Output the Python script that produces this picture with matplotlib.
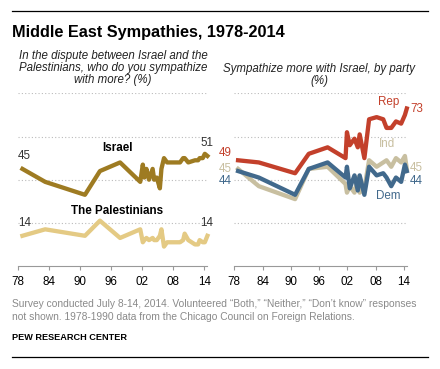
import matplotlib
matplotlib.use("Agg")
import matplotlib.pyplot as plt

plt.rcParams['font.family'] = ['Liberation Sans', 'DejaVu Sans']

# 左图：同情以色列 / 巴勒斯坦
left_years = [1978.8, 1983.2, 1990.9, 1993.8, 1997.7, 2001.6, 2002.1, 2002.4, 2002.8,
              2003.3, 2004.0, 2004.3, 2004.8, 2005.4, 2005.7, 2006.2, 2006.8, 2009.3,
              2009.9, 2010.2, 2010.9, 2012.2, 2012.8, 2013.1, 2013.7, 2014.1, 2014.6]
israel = [45, 39, 33, 44, 48, 39, 47, 41, 45, 40, 45, 40, 41, 36, 45, 50, 48, 48,
          50, 50, 48, 49, 49, 50, 50, 52, 51]
palestinians = [14, 17, 14, 21, 13, 17, 11, 12, 13, 12, 13, 12, 12, 14, 17, 9, 11, 11,
                12, 15, 12, 10, 10, 12, 11, 11, 14]

# 右图：按党派
right_years = [1978.8, 1983.2, 1990.9, 1993.8, 1997.8, 2001.6, 2001.9, 2002.5, 2003.5,
               2004.2, 2004.6, 2005.6, 2006.6, 2008.2, 2009.6, 2010.3, 2011.3, 2012.3,
               2013.4, 2014.2, 2014.6]
rep = [49, 48, 43, 52, 55, 50, 62, 56, 59, 55, 61, 50, 68, 69, 68, 64, 64, 67, 66, 70, 73]
ind = [45, 37, 31, 45, 46, 38, 34, 37, 34, 41, 34, 36, 49, 46, 48, 49, 46, 50, 48, 51, 45]
dem = [44, 41, 33, 45, 48, 41, 46, 36, 42, 35, 42, 33, 46, 42, 43, 41, 37, 41, 39, 47, 44]

tick_years = [1978, 1984, 1990, 1996, 2002, 2008, 2014]
tick_labels = ['78', '84', '90', '96', '02', '08', '14']

c_isr = '#9E7B22'
c_pal = '#E4CA84'
c_rep = '#C3402B'
c_ind = '#C8BFA0'
c_dem = '#41698C'

W, H = 440, 369
fig = plt.figure(figsize=(W / 100, H / 100), dpi=100)


def px(x, y):
    return x / W, 1 - y / H


def make_ax(x0, x1):
    ax = fig.add_axes([x0 / W, (H - 266) / H, (x1 - x0) / W, (266 - 93.4) / H])
    ax.set_xlim(1978, 2014.6)
    ax.set_ylim(0, 80)
    for s in ['top', 'left', 'right']:
        ax.spines[s].set_visible(False)
    ax.spines['bottom'].set_color('#999999')
    ax.set_yticks([])
    ax.set_xticks(tick_years)
    ax.set_xticklabels(tick_labels)
    ax.tick_params(axis='x', length=3, color='#999999', labelsize=8.4, pad=4)
    for g in [20, 40, 60, 80]:
        ax.axhline(g, color='#bbbbbb', lw=0.8, ls=(0, (1, 2)), zorder=0)
    return ax


ax1 = make_ax(18.3, 207.4)
ax1.plot(left_years, israel, color=c_isr, lw=3.1, clip_on=False)
ax1.plot(left_years, palestinians, color=c_pal, lw=3.1, clip_on=False)

ax2 = make_ax(234.3, 406.8)
ax2.plot(right_years, ind, color=c_ind, lw=3.1, clip_on=False)
ax2.plot(right_years, dem, color=c_dem, lw=3.1, clip_on=False)
ax2.plot(right_years, rep, color=c_rep, lw=3.1, clip_on=False)

# 标题和线
fig.add_artist(plt.Line2D([12 / W, 428 / W], [1 - 11 / H, 1 - 11 / H], color='black', lw=0.9))
fig.add_artist(plt.Line2D([12 / W, 428 / W], [1 - 357 / H, 1 - 357 / H], color='black', lw=0.9))
fig.text(*px(12, 32), 'Middle East Sympathies, 1978-2014', fontsize=11.7,
         fontweight='bold', va='center', ha='left')

fig.text(*px(113, 68), 'In the dispute between Israel and the\nPalestinians, who do you sympathize\nwith more? (%)',
         fontsize=8.3, style='italic', ha='center', va='center', linespacing=1.05, color='#222222')
fig.text(*px(319, 75), 'Sympathize more with Israel, by party\n(%)',
         fontsize=8.3, style='italic', ha='center', va='center', linespacing=1.05, color='#222222')

# 线标签
fs = 8.4
fig.text(*px(18, 156), '45', fontsize=fs, va='center', ha='left', color='#333333')
fig.text(*px(213, 143), '51', fontsize=fs, va='center', ha='right', color='#333333')
fig.text(*px(117, 148), 'Israel', fontsize=fs, fontweight='bold', va='center', ha='center')
fig.text(*px(117, 211), 'The Palestinians', fontsize=fs, fontweight='bold', va='center', ha='center')
fig.text(*px(18, 223), '14', fontsize=fs, va='center', ha='left', color='#333333')
fig.text(*px(213, 223), '14', fontsize=fs, va='center', ha='right', color='#333333')

fig.text(*px(232, 153), '49', fontsize=fs, va='center', ha='right', color=c_rep)
fig.text(*px(232, 169), '45', fontsize=fs, va='center', ha='right', color=c_ind)
fig.text(*px(232, 181), '44', fontsize=fs, va='center', ha='right', color=c_dem)
fig.text(*px(389, 102), 'Rep', fontsize=fs, va='center', ha='center', color=c_rep)
fig.text(*px(410, 109), '73', fontsize=fs, va='center', ha='left', color=c_rep)
fig.text(*px(387, 144), 'Ind', fontsize=fs, va='center', ha='center', color=c_ind)
fig.text(*px(410, 168), '45', fontsize=fs, va='center', ha='left', color=c_ind)
fig.text(*px(410, 181), '44', fontsize=fs, va='center', ha='left', color=c_dem)
fig.text(*px(388, 196), 'Dem', fontsize=fs, va='center', ha='center', color=c_dem)

# 注释
fig.text(*px(12, 310.5), 'Survey conducted July 8-14, 2014. Volunteered \u201cBoth,\u201d \u201cNeither,\u201d \u201cDon\u2019t know\u201d responses\n'
         'not shown. 1978-1990 data from the Chicago Council on Foreign Relations.',
         fontsize=7.4, color='#8a8a8a', va='center', ha='left', linespacing=1.3)
fig.text(*px(12, 337), 'PEW RESEARCH CENTER', fontsize=6.6, fontweight='bold', va='center', ha='left')

fig.savefig('out.png', dpi=100)
